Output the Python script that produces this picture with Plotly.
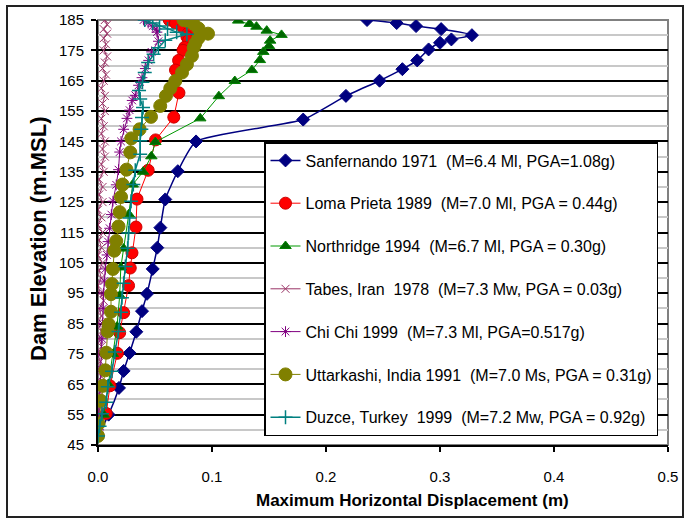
import plotly.graph_objects as go

# ---------------- data ----------------
sf_y = [185, 184, 183, 182, 180, 178.6, 177.5, 175.3, 171.7, 168.8, 165, 160, 152.2, 145, 135.2, 125.9,
        116.6, 110, 103, 94.8, 89.1, 82.3, 75.3, 69.4, 63.8, 55, 48]
sf_x = [0.236, 0.262, 0.279, 0.301, 0.328, 0.310, 0.300, 0.290, 0.280, 0.267, 0.247, 0.2175, 0.180, 0.086,
        0.070, 0.059, 0.0547, 0.052, 0.048, 0.043, 0.0386, 0.0336, 0.0277, 0.0225, 0.0184, 0.0093, 0.0]

lp_y = [185, 184, 182.5, 180.6, 179.5, 178.3, 176, 175, 171.7, 168.5, 161, 153, 145.5, 135.5, 126, 116.8,
        108.3, 103.3, 97.5, 88.6, 82, 75.2, 64.5, 55.4, 48]
lp_x = [0.0625, 0.068, 0.0746, 0.079, 0.078, 0.0795, 0.076, 0.0746, 0.0707, 0.068, 0.071, 0.0665, 0.0505,
        0.044, 0.0342, 0.0333, 0.0298, 0.0283, 0.0268, 0.0225, 0.019, 0.017, 0.0105, 0.0072, 0.0]

nr_y = [184.8, 183.7, 182.8, 181.5, 180.1, 178.2, 176.4, 174.5, 171.8, 168.5, 164.9, 159.9, 152.6, 144.8,
        140.1, 135, 130.8, 121, 109.7, 103.5, 94.2, 84, 75, 65, 55, 48]
nr_x = [0.123, 0.133, 0.139, 0.148, 0.161, 0.151, 0.150, 0.145, 0.142, 0.135, 0.120, 0.106, 0.0897, 0.0503,
        0.0468, 0.0395, 0.0304, 0.027, 0.0225, 0.020, 0.019, 0.0167, 0.013, 0.009, 0.005, 0.0]

tb_y = [185, 183.5, 182, 180.5, 179, 177, 175, 173, 171, 169, 167, 165, 162.5, 160, 157.5, 155, 152.5, 150,
        147.5, 145, 142.5, 140, 137.5, 135, 132.5, 130, 127.5, 125, 122.5, 120, 117.5, 115, 112.5, 110, 107.5,
        105, 102.5, 100, 97.5, 95, 92.5, 90, 87.5, 85, 82.5, 80, 77.5, 75, 72.5, 70, 67.5, 65, 62.5, 60, 57.5,
        55, 52.5, 50, 48]
tb_x = [0.006, 0.008, 0.005, 0.008, 0.005, 0.007, 0.005, 0.008, 0.006, 0.004, 0.007, 0.005, 0.003, 0.006,
        0.004, 0.006, 0.003, 0.005, 0.003, 0.006, 0.004, 0.006, 0.003, 0.005, 0.001, 0.004, 0.001, 0.004,
        0.0, 0.003, 0.0, 0.004, 0.001, 0.003, 0.0, 0.004, 0.001, 0.003, 0.0, 0.002, 0.005, 0.001, 0.003, 0.0,
        0.003, 0.001, 0.003, 0.0, 0.002, 0.001, 0.003, 0.0, 0.002, 0.001, 0.002, 0.0, 0.001, 0.0, 0.0]

cc_y = [185, 184, 183, 182, 181, 178, 174.5, 171.7, 169, 166, 163.5, 160.2, 158.5, 155.3, 152.6, 149, 145,
        141.5, 135.7, 130.7, 125.3, 120.9, 116.4, 112, 107.6, 103, 99, 95, 90, 85, 80, 75, 70, 65, 60, 55,
        50, 48]
cc_x = [0.040, 0.044, 0.048, 0.051, 0.0517, 0.053, 0.047, 0.0444, 0.0415, 0.0386, 0.0356, 0.0327, 0.030,
        0.0277, 0.0254, 0.0225, 0.0202, 0.019, 0.018, 0.016, 0.0131, 0.0117, 0.0102, 0.0088, 0.0079, 0.0064,
        0.0055, 0.0049, 0.0045, 0.004, 0.0035, 0.003, 0.0025, 0.002, 0.0015, 0.001, 0.0005, 0.0]

ut_y = [185, 184.5, 183.7, 182.2, 180.5, 179, 177.3, 175.9, 173.2, 170.4, 167.7, 164.9, 162.5, 160, 156.7,
        153.1, 149, 146, 141.4, 135.7, 130.8, 126.7, 121.7, 117, 112.2, 109, 103, 98, 94.7, 88.9, 84.8, 82.4,
        75.4, 69.6, 64.5, 59.5, 52, 48]
ut_x = [0.075, 0.0795, 0.0839, 0.0882, 0.0965, 0.088, 0.0854, 0.0839, 0.0824, 0.078, 0.0737, 0.0678, 0.0634,
        0.0596, 0.0546, 0.0465, 0.0365, 0.0292, 0.0283, 0.025, 0.0216, 0.0202, 0.019, 0.018, 0.016, 0.0143,
        0.0131, 0.0123, 0.0114, 0.0114, 0.0093, 0.0084, 0.0073, 0.0064, 0.0044, 0.0026, 0.0005, 0.0]

dz_y = [185, 184, 183, 182, 181, 180.3, 178.3, 175.9, 173.7, 171, 167.7, 164.5, 161.8, 159, 156.2, 152.9, 149,
        145.2, 140.8, 135.5, 130.8, 125.3, 119.8, 114.8, 109.8, 103.8, 98.3, 93.5, 88.7, 82.4, 75.6, 69.3,
        64.2, 59.1, 55.3, 51.2, 48]
dz_x = [0.041, 0.048, 0.054, 0.061, 0.069, 0.078, 0.059, 0.053, 0.0488, 0.044, 0.041, 0.039, 0.036, 0.037,
        0.0395, 0.0386, 0.038, 0.037, 0.037, 0.0327, 0.031, 0.029, 0.0277, 0.0268, 0.026, 0.024, 0.0225,
        0.021, 0.0202, 0.018, 0.0148, 0.0123, 0.0086, 0.0073, 0.0035, 0.0014, 0.0]

names = [
    "Sanfernando 1971  (M=6.4 Ml, PGA=1.08g)",
    "Loma Prieta 1989  (M=7.0 Ml, PGA = 0.44g)",
    "Northridge 1994  (M=6.7 Ml, PGA = 0.30g)",
    "Tabes, Iran  1978  (M=7.3 Mw, PGA = 0.03g)",
    "Chi Chi 1999  (M=7.3 Ml, PGA=0.517g)",
    "Uttarkashi, India 1991  (M=7.0 Ms, PGA = 0.31g)",
    "Duzce, Turkey  1999  (M=7.2 Mw, PGA = 0.92g)",
]

x_ticks = [0.0, 0.1, 0.2, 0.3, 0.4, 0.5]
y_ticks = list(range(45, 186, 10))

FONT = "Liberation Sans, Arial"

fig = go.Figure()

styles = [
    (sf_x, sf_y, dict(color="#000080", width=1.5, shape="spline", smoothing=0.5),
     dict(symbol="diamond", size=10, color="#000080", line=dict(color="#000080", width=1))),
    (lp_x, lp_y, dict(color="#ff0000", width=1),
     dict(symbol="circle", size=12, color="#ff0000", line=dict(color="#cc0000", width=1))),
    (nr_x, nr_y, dict(color="#009900", width=1),
     dict(symbol="triangle-up", size=10, color="#006600", line=dict(color="#008000", width=1))),
    (tb_x, tb_y, dict(color="#993366", width=1),
     dict(symbol="x-thin-open", size=8, color="#993366", line=dict(color="#993366", width=1))),
    (cc_x, cc_y, dict(color="#800080", width=1),
     dict(symbol="asterisk-open", size=9, color="#800080", line=dict(color="#800080", width=1))),
    (ut_x, ut_y, dict(color="#808000", width=1),
     dict(symbol="circle", size=13, color="#808000", line=dict(color="#808000", width=1))),
    (dz_x, dz_y, dict(color="#008080", width=1.5),
     dict(symbol="cross-thin-open", size=10, color="#008080", line=dict(color="#008080", width=1.5))),
]

for i, (xs, ys, ln, mk) in enumerate(styles):
    fig.add_trace(go.Scatter(x=xs, y=ys, mode="lines+markers", name=names[i], line=ln, marker=mk,
                             legendgroup=f"g{i}"))

W, H = 685, 519
L, R, T, B = 98, 17, 20, 74
pw, ph = W - L - R, H - T - B

def px(xp):
    return (xp - L) / pw

def py(yp):
    return (H - B - yp) / ph

fig.update_layout(
    width=W, height=H,
    margin=dict(l=L, r=R, t=T, b=B, autoexpand=False),
    paper_bgcolor="white", plot_bgcolor="white",
    font=dict(family=FONT, size=15, color="black"),
    showlegend=True,
    legend=dict(x=px(264), y=py(142), xanchor="left", yanchor="top",
                bgcolor="white", bordercolor="black", borderwidth=1.5,
                font=dict(family=FONT, size=16, color="black"),
                traceorder="grouped", tracegroupgap=19, itemwidth=30),
    xaxis=dict(range=[0, 0.5], tickvals=x_ticks, ticktext=[f"{v:.1f}" for v in x_ticks],
               showgrid=False, zeroline=False, showline=True, linecolor="black", linewidth=2,
               ticks="outside", ticklen=5, tickwidth=1.5, tickcolor="black",
               tickfont=dict(family=FONT, size=15), ticklabelstandoff=12),
    yaxis=dict(range=[45, 185], tickvals=y_ticks, showgrid=True, gridcolor="black", gridwidth=1.5,
               zeroline=False, showline=True, linecolor="black", linewidth=2,
               ticks="outside", ticklen=5, tickwidth=1.5, tickcolor="black",
               tickfont=dict(family=FONT, size=15), ticklabelstandoff=4,
               minor=dict(tick0=50, dtick=10, showgrid=True, gridcolor="#c8c8c8", gridwidth=2)),
    shapes=[
        dict(type="rect", xref="paper", yref="paper", x0=0, x1=1, y0=0, y1=1,
             line=dict(color="#808080", width=2), layer="between"),
        dict(type="rect", xref="paper", yref="paper", x0=px(7), x1=px(683), y0=py(517), y1=py(6),
             line=dict(color="#222222", width=2), layer="below"),
    ],
    annotations=[
        dict(text="<b>Maximum Horizontal Displacement (m)</b>", xref="paper", yref="paper",
             x=px(412), y=py(500), xanchor="center", yanchor="middle", showarrow=False,
             font=dict(family=FONT, size=17, color="black")),
        dict(text="<b>Dam Elevation (m.MSL)</b>", xref="paper", yref="paper",
             x=px(38), y=py(239), xanchor="center", yanchor="middle", showarrow=False, textangle=-90,
             font=dict(family=FONT, size=22, color="black")),
    ],
)

fig.write_html("out.html")
